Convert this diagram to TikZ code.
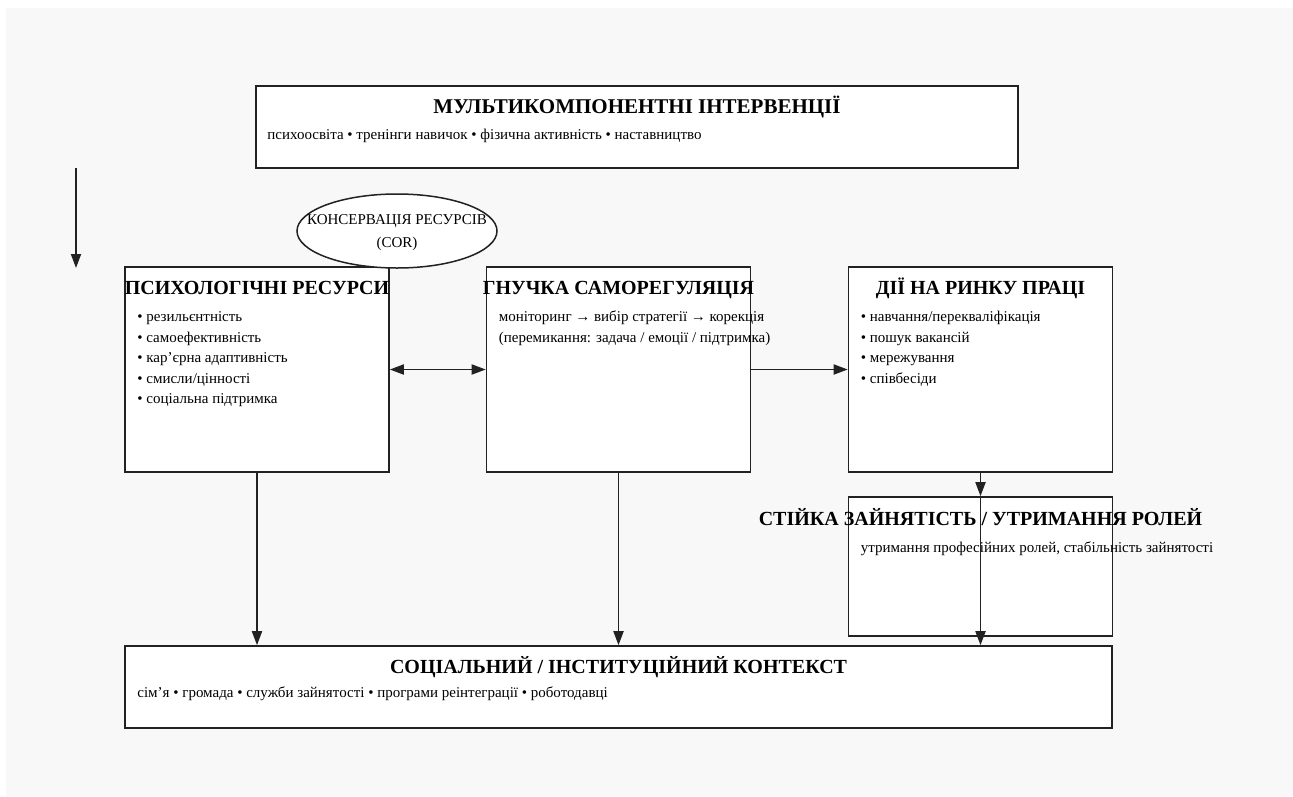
\documentclass[tikz,border=0pt]{standalone}
\usepackage{fontspec}
\setmainfont{Liberation Serif}
\usepackage{xcolor}
\usepackage{tikz}
\usetikzlibrary{
  shapes.geometric,
  arrows.meta,
  positioning
}
\definecolor{PageGray}{RGB}{248, 248, 248}
\definecolor{LineDark}{RGB}{34, 34, 34}
\tikzset{
  panel/.style={rectangle, draw=LineDark, line width=1.6pt, fill=white, inner sep=0pt},
  paneltitle/.style={inner sep=0pt, anchor=base, font=\fontsize{20}{23}\selectfont\bfseries},
  paneltext/.style={inner sep=0pt, anchor=base west, align=left, font=\fontsize{15}{20.5}\selectfont},
  flow/.style={-{Triangle[length=14pt, width=10pt]}, line width=1.8pt, draw=LineDark},
  flowboth/.style={{Triangle[length=14pt, width=10pt]}-{Triangle[length=14pt, width=10pt]}, line width=1.8pt, draw=LineDark}
}

\begin{document}
\begin{tikzpicture}[x=1pt, y=-1pt]
  \useasboundingbox (0,0) rectangle (1293,796);
  \fill[PageGray] (6,8) rectangle (1293,796);

  % boxes
  \node[panel, minimum width=762pt, minimum height=82pt] (interv) at (637,127) {};
  \node[panel, minimum width=264pt, minimum height=205pt] (psych) at (257,369.5) {};
  \node[panel, minimum width=264pt, minimum height=205pt] (selfreg) at (618.5,369.5) {};
  \node[panel, minimum width=264pt, minimum height=205pt] (actions) at (980.5,369.5) {};
  \node[panel, minimum width=264pt, minimum height=139pt] (stable) at (980.5,566.5) {};
  \node[panel, minimum width=987pt, minimum height=82pt] (context) at (618.5,687) {};

  % titles
  \node[paneltitle, font=\fontsize{21}{24}\selectfont\bfseries] (intervtitle) at ([yshift=-28.5pt]interv.north) {МУЛЬТИКОМПОНЕНТНІ ІНТЕРВЕНЦІЇ};
  \node[paneltitle] (psychtitle) at ([yshift=-28pt]psych.north) {ПСИХОЛОГІЧНІ РЕСУРСИ};
  \node[paneltitle] (selfregtitle) at ([yshift=-28pt]selfreg.north) {ГНУЧКА САМОРЕГУЛЯЦІЯ};
  \node[paneltitle] (actionstitle) at ([yshift=-28pt]actions.north) {ДІЇ НА РИНКУ ПРАЦІ};
  \node[paneltitle] (stabletitle) at ([yshift=-29.5pt]stable.north) {СТІЙКА ЗАЙНЯТІСТЬ / УТРИМАННЯ РОЛЕЙ};
  \node[paneltitle] (contexttitle) at ([yshift=-28.5pt]context.north) {СОЦІАЛЬНИЙ / ІНСТИТУЦІЙНИЙ КОНТЕКСТ};

  % texts (anchored at the baseline of their last line)
  \node[paneltext] (intervtext) at ([xshift=12pt, yshift=-54.5pt]interv.north west)
    {психоосвіта • тренінги навичок • фізична активність • наставництво};
  \node[paneltext] (psychtext) at ([xshift=13pt, yshift=-137.5pt]psych.north west)
    {• резильєнтність\\• самоефективність\\• кар’єрна адаптивність\\• смисли/цінності\\• соціальна підтримка};
  \node[paneltext] (selfregtext) at ([xshift=13pt, yshift=-76pt]selfreg.north west)
    {моніторинг → вибір стратегії → корекція\\(перемикання: задача / емоції / підтримка)};
  \node[paneltext] (actionstext) at ([xshift=13pt, yshift=-117pt]actions.north west)
    {• навчання/перекваліфікація\\• пошук вакансій\\• мережування\\• співбесіди};
  \node[paneltext] (stabletext) at ([xshift=13pt, yshift=-56.5pt]stable.north west)
    {утримання професійних ролей, стабільність зайнятості};
  \node[paneltext] (contexttext) at ([xshift=13pt, yshift=-52.5pt]context.north west)
    {сім’я • громада • служби зайнятості • програми реінтеграції • роботодавці};

  % COR
  \node[ellipse, draw=LineDark, line width=1.5pt, fill=white, minimum width=200pt, minimum height=74pt,
        inner sep=0pt] (cor) at (397,231) {};
  \node[inner sep=0pt, align=center, font=\fontsize{15}{23}\selectfont] (corlabel)
    at ([yshift=-2pt]cor.center) {КОНСЕРВАЦІЯ РЕСУРСІВ\\(COR)};

  % arrows
  \coordinate (leftstart) at (76,168);
  \coordinate (leftend) at (76,268);
  \draw[flow] (leftstart) -- (leftend);
  \draw[flowboth] (psych.east) -- (selfreg.west);
  \draw[flow] (selfreg.east) -- (actions.west);
  \draw[flow] (actions.south) -- (stable.north);
  \draw[flow] (stable.north) -- (stable.north |- context.north);
  \draw[flow] (psych.south) -- (psych.south |- context.north);
  \draw[flow] (selfreg.south) -- (selfreg.south |- context.north);
\end{tikzpicture}
\end{document}
